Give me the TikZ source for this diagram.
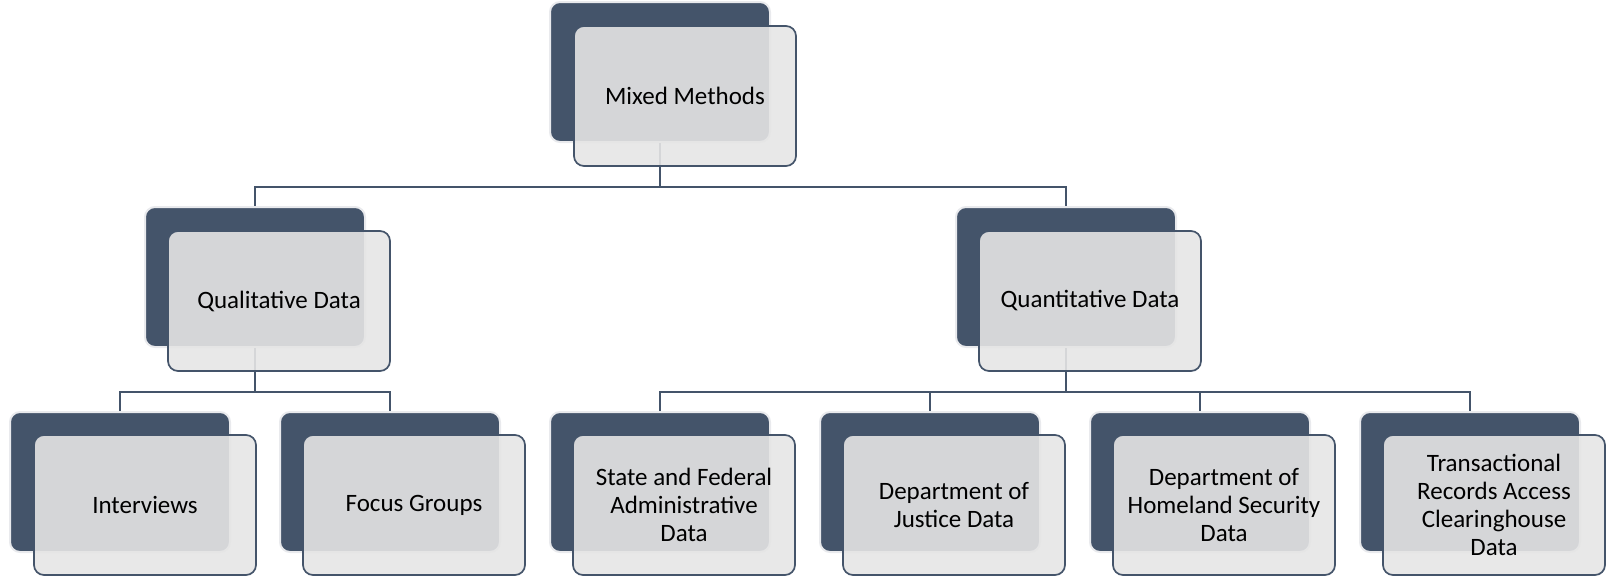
\documentclass[tikz,border=0pt]{standalone}
\usepackage{fontspec}
\setmainfont{Carlito}
\definecolor{slate}{HTML}{44546A}
\definecolor{cardgray}{HTML}{E5E5E5}
\tikzset{
  backcard/.style={draw=slate!12, line width=1pt, fill=slate, rounded corners=5pt,
    minimum width=110pt, minimum height=70pt, inner sep=0pt},
  frontcard/.style={draw=slate, line width=.85pt, fill=cardgray, fill opacity=.9, text opacity=1,
    rounded corners=5pt, minimum width=111pt, minimum height=70pt, align=center,
    font=\fontsize{12.5}{14.1}\selectfont},
  link/.style={draw=slate, line width=.8pt}
}
\begin{document}
\begin{tikzpicture}[x=.5pt, y=-.5pt]
\useasboundingbox (0,0) rectangle (1608,579);
% dark cards behind
\foreach \n/\x/\y in {mixed/660/72, qual/255/277, quant/1066/277,
  interv/120/482, focus/390/482, state/660/482, doj/930/482, dhs/1200/482, trac/1470/482}
  \node[backcard] (\n-b) at (\x,\y) {};
% connectors
\coordinate (bustop) at (0,187);
\coordinate (busbot) at (0,392);
\draw[link] (mixed-b.south) -- (mixed-b.south |- bustop) -| (qual-b.north);
\draw[link] (mixed-b.south |- bustop) -| (quant-b.north);
\draw[link] (qual-b.south) -- (qual-b.south |- busbot) -| (interv-b.north);
\draw[link] (qual-b.south |- busbot) -| (focus-b.north);
\draw[link] (quant-b.south) -- (quant-b.south |- busbot) -| (state-b.north);
\draw[link] (quant-b.south |- busbot) -| (doj-b.north);
\draw[link] (quant-b.south |- busbot) -| (dhs-b.north);
\draw[link] (quant-b.south |- busbot) -| (trac-b.north);
% light cards in front
\node[frontcard] (mixed) at (685,96) {Mixed Methods};
\node[frontcard] (qual) at (279,301) {Qualitative Data};
\node[frontcard] (quant) at (1090,301) {Quantitative Data};
\node[frontcard] (interv) at (145,505) {Interviews};
\node[frontcard] (focus) at (414,505) {Focus Groups};
\node[frontcard] (state) at (684,505) {State and Federal\\Administrative\\Data};
\node[frontcard] (doj) at (954,505) {Department of\\Justice Data};
\node[frontcard] (dhs) at (1224,505) {Department of\\Homeland Security\\Data};
\node[frontcard] (trac) at (1494,505) {Transactional\\Records Access\\Clearinghouse\\Data};
\end{tikzpicture}
\end{document}
